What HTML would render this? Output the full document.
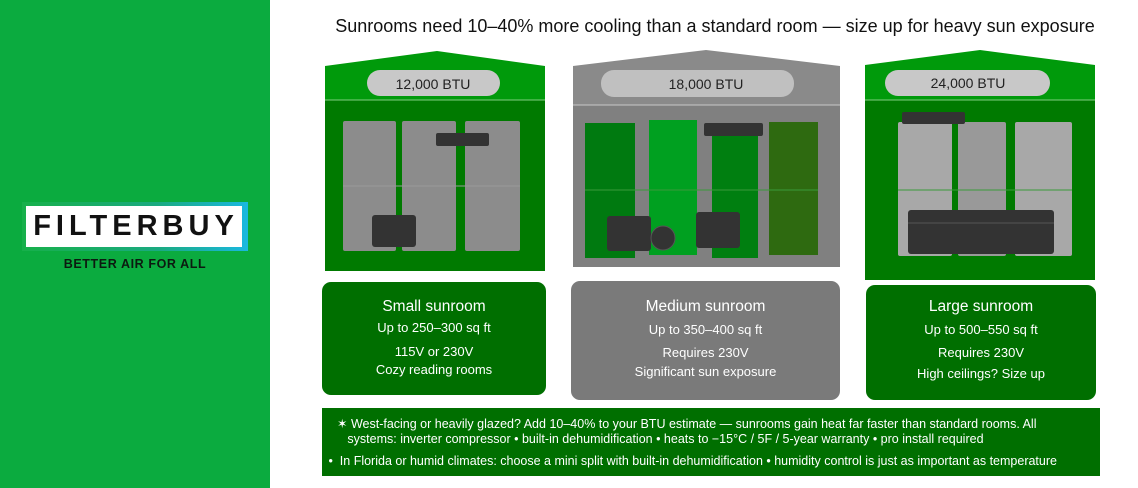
<!DOCTYPE html>
<html><head><meta charset="utf-8"><style>
body{margin:0;width:1138px;height:488px;position:relative;background:#fff;font-family:"Liberation Sans",sans-serif;overflow:hidden}
.a{position:absolute}
.card{position:absolute;border-radius:9px;color:#fff;text-align:center}
.card .t{font-size:15.5px;margin-top:16px;line-height:18px}
.card .s{font-size:13px;line-height:17px}
</style></head><body>
<div class="a" style="left:0;top:0;width:270px;height:488px;background:#0bab3f"></div>
<div class="a" style="left:22px;top:202px;width:226px;height:49px;background:linear-gradient(90deg,#17b04a,#1aaa80 60%,#1ab8e0)"></div>
<div class="a" style="left:26px;top:206px;width:216px;height:41px;background:#fff;font-weight:bold;font-size:29px;letter-spacing:5px;line-height:41px;text-align:center;color:#111;text-indent:4px">FILTERBUY</div>
<div class="a" style="left:0;top:257px;width:270px;text-align:center;font-weight:bold;font-size:12.5px;letter-spacing:0.6px;color:#0c1a10">BETTER AIR FOR ALL</div>
<div class="a" style="left:280px;top:16px;width:870px;text-align:center;font-size:18px;color:#111">Sunrooms need 10–40% more cooling than a standard room — size up for heavy sun exposure</div>
<svg class="a" style="left:0;top:0" width="1138" height="290">
<polygon points="325,66 437,51 545,66 545,100 325,100" fill="#009a0b"/>
<rect x="325" y="100" width="220" height="171" fill="#007a00"/>
<line x1="325" y1="100" x2="545" y2="100" stroke="#7fcf7f" stroke-width="1"/>
<rect x="367" y="70" width="133" height="26" rx="13" fill="#c8c8c8"/>
<text x="433" y="89" font-size="14" text-anchor="middle" fill="#222" font-family="Liberation Sans">12,000 BTU</text>
<rect x="343" y="121" width="53" height="130" rx="2" fill="#8c8c8c"/>
<rect x="402" y="121" width="54" height="130" rx="2" fill="#8c8c8c"/>
<rect x="465" y="121" width="55" height="130" rx="2" fill="#8c8c8c"/>
<line x1="343" y1="186" x2="520" y2="186" stroke="#9a9a9a"/>
<rect x="436" y="133" width="53" height="13" rx="2" fill="#333"/>
<rect x="372" y="215" width="44" height="32" rx="3" fill="#333"/>

<polygon points="573,66 706,50 840,66 840,105 573,105" fill="#8a8a8a"/>
<rect x="573" y="105" width="267" height="162" fill="#808080"/>
<line x1="573" y1="105" x2="840" y2="105" stroke="#c8c8c8"/>
<rect x="601" y="70" width="193" height="27" rx="13" fill="#c0c0c0"/>
<text x="706" y="89" font-size="14" text-anchor="middle" fill="#222" font-family="Liberation Sans">18,000 BTU</text>
<rect x="585" y="123" width="50" height="135" fill="#007a10"/>
<rect x="649" y="120" width="48" height="135" fill="#00a020"/>
<rect x="712" y="123" width="46" height="135" fill="#007f10"/>
<rect x="769" y="122" width="49" height="133" fill="#2e6a10"/>
<line x1="585" y1="190" x2="818" y2="190" stroke="#3a9a3a"/>
<rect x="704" y="123" width="59" height="13" rx="2" fill="#333"/>
<rect x="607" y="216" width="44" height="35" rx="3" fill="#333"/>
<circle cx="663" cy="238" r="12" fill="#333" stroke="#555"/>
<rect x="696" y="212" width="44" height="36" rx="3" fill="#333"/>

<polygon points="865,65 980,50 1095,65 1095,100 865,100" fill="#009a0b"/>
<rect x="865" y="100" width="230" height="180" fill="#007a00"/>
<line x1="865" y1="100" x2="1095" y2="100" stroke="#7fcf7f"/>
<rect x="885" y="70" width="165" height="26" rx="13" fill="#c8c8c8"/>
<text x="968" y="88" font-size="14" text-anchor="middle" fill="#222" font-family="Liberation Sans">24,000 BTU</text>
<rect x="898" y="122" width="54" height="134" rx="2" fill="#a8a8a8"/>
<rect x="958" y="122" width="48" height="134" rx="2" fill="#999"/>
<rect x="1015" y="122" width="57" height="134" rx="2" fill="#a8a8a8"/>
<line x1="898" y1="190" x2="1072" y2="190" stroke="#3a9a3a"/>
<rect x="902" y="112" width="63" height="12" rx="2" fill="#333"/>
<rect x="908" y="210" width="146" height="44" rx="3" fill="#333"/>
<line x1="908" y1="223" x2="1054" y2="223" stroke="#555"/>
</svg>
<div class="card" style="left:322px;top:282px;width:224px;height:113px;background:#006f00"><div class="t" style="margin-top:16px">Small sunroom</div><div class="s" style="margin-top:3px">Up to 250–300 sq ft</div><div class="s" style="margin-top:7px">115V or 230V</div><div class="s" style="margin-top:1px">Cozy reading rooms</div></div>
<div class="card" style="left:571px;top:281px;width:269px;height:119px;background:#7a7a7a"><div class="t" style="margin-top:17px">Medium sunroom</div><div class="s" style="margin-top:5px">Up to 350–400 sq ft</div><div class="s" style="margin-top:6px">Requires 230V</div><div class="s" style="margin-top:2px">Significant sun exposure</div></div>
<div class="card" style="left:866px;top:285px;width:230px;height:115px;background:#006f00"><div class="t" style="margin-top:13px">Large sunroom</div><div class="s" style="margin-top:5px">Up to 500–550 sq ft</div><div class="s" style="margin-top:6px">Requires 230V</div><div class="s" style="margin-top:4px">High ceilings? Size up</div></div>
<div class="a" style="left:322px;top:408px;width:778px;height:68px;background:#006f00;color:#fff;font-size:12.5px">
<div style="position:absolute;left:15px;top:9px;line-height:15px">✶ West-facing or heavily glazed? Add 10–40% to your BTU estimate — sunrooms gain heat far faster than standard rooms. All<br>&nbsp;&nbsp;&nbsp;systems: inverter compressor • built-in dehumidification • heats to −15°C / 5F / 5-year warranty • pro install required</div>
<div style="position:absolute;left:3px;top:46px">&nbsp;•&nbsp;&nbsp;In Florida or humid climates: choose a mini split with built-in dehumidification • humidity control is just as important as temperature</div>
</div>
</body></html>
